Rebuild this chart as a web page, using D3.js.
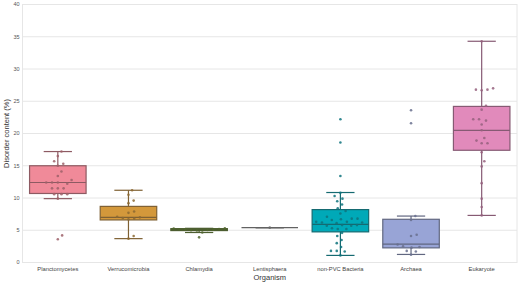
<!DOCTYPE html>
<html>
<head>
<meta charset="utf-8">
<script src="https://cdn.jsdelivr.net/npm/d3@7"></script>
<style>
  body { margin: 0; background: #fff; }
  svg { display: block; font-family: "Liberation Sans", Arial, sans-serif; }
</style>
</head>
<body>
<div id="chart"></div>
<script>
// categories and colours
const categories = ["Planctomycetes", "Verrucomicrobia", "Chlamydia", "Lentisphaera", "non-PVC Bacteria", "Archaea", "Eukaryote"];
const colors = ["#f08a99", "#d3983b", "#6f9236", "#9a9a9a", "#00a9b8", "#98a4d6", "#e18abb"];

// box statistics
const whiskerLo = [9.9, 3.7, 4.65, 5.4, 1.1, 1.25, 7.3];
const q1 = [10.7, 6.6, 4.95, 5.4, 4.75, 2.27, 17.4];
const median = [12.4, 7.0, 5.1, 5.4, 5.9, 2.85, 20.5];
const q3 = [15.0, 8.7, 5.25, 5.4, 8.2, 6.7, 24.2];
const whiskerHi = [17.2, 11.2, 5.3, 5.4, 10.85, 7.2, 34.3];

// individual points (swarm)
const planctomycetes = [17.2, 16.5, 15.7, 15.3, 15.0, 14.1, 13.4, 12.8, 12.4, 12.4, 12.4, 12.2, 11.5, 11.5, 11.5, 10.6, 10.6, 10.6, 9.9, 4.2, 3.6];
const verrucomicrobia = [11.2, 10.5, 9.6, 9.2, 7.9, 7.7, 7.1, 7.0, 6.9, 6.8, 6.7, 4.1, 3.7];
const chlamydia = [5.3, 5.25, 5.2, 5.15, 5.1, 5.1, 5.05, 5.0, 4.95, 4.65, 3.9];
const lentisphaera = [5.4];
const nonPVC = [22.2, 18.6, 13.4, 10.8, 10.3, 9.9, 9.5, 9.0, 8.4, 8.0, 7.6, 7.1, 6.8, 6.8, 6.7, 6.6, 6.3, 6.3, 6.2, 6.2, 6.1, 5.8, 5.8, 5.7, 5.7, 5.3, 5.2, 5.2, 4.6, 4.1, 3.5, 3.0, 2.4, 1.8, 1.8, 1.7, 1.1];
const archaea = [23.6, 21.6, 7.2, 6.6, 4.3, 4.1, 2.8, 2.5, 2.4, 2.3, 1.8, 1.7, 1.2];
const eukaryote = [34.3, 27.0, 26.8, 26.7, 26.8, 24.3, 23.7, 22.2, 22.2, 22.0, 21.4, 20.5, 19.3, 18.9, 18.5, 18.5, 17.1, 15.7, 14.9, 12.3, 9.9, 8.6, 7.3];
const points = [planctomycetes, verrucomicrobia, chlamydia, lentisphaera, nonPVC, archaea, eukaryote];

const yTicks = [0, 5, 10, 15, 20, 25, 30, 35, 40];

const width = 520, height = 283;
const margin = { top: 4.5, right: 3, bottom: 20.5, left: 22.5 };

const svg = d3.select("#chart").append("svg")
  .attr("width", width)
  .attr("height", height);

const x = d3.scaleBand()
  .domain(categories)
  .range([margin.left, width - margin.right])
  .paddingInner(0.2)
  .paddingOuter(0.1);

const y = d3.scaleLinear()
  .domain([0, 40])
  .range([height - margin.bottom, margin.top]);

// grid
svg.append("g")
  .selectAll("line")
  .data(yTicks)
  .join("line")
  .attr("x1", margin.left)
  .attr("x2", width - margin.right)
  .attr("y1", d => y(d))
  .attr("y2", d => y(d))
  .attr("stroke", "#e6e6e6")
  .attr("stroke-width", 1);

// frame
svg.append("rect")
  .attr("x", margin.left)
  .attr("y", y(40))
  .attr("width", width - margin.right - margin.left)
  .attr("height", y(0) - y(40))
  .attr("fill", "none")
  .attr("stroke", "#e6e6e6")
  .attr("stroke-width", 1);

// y tick labels
svg.append("g")
  .selectAll("text")
  .data(yTicks)
  .join("text")
  .attr("x", margin.left - 3)
  .attr("y", d => y(d))
  .attr("dy", "0.35em")
  .attr("text-anchor", "end")
  .attr("font-size", 5.5)
  .attr("fill", "#555")
  .text(d => d);

// x tick labels
svg.append("g")
  .selectAll("text")
  .data(categories)
  .join("text")
  .attr("x", d => x(d) + x.bandwidth() / 2)
  .attr("y", y(0) + 8)
  .attr("text-anchor", "middle")
  .attr("font-size", 5.8)
  .attr("fill", "#444")
  .text(d => d);

// axis titles
svg.append("text")
  .attr("x", (margin.left + width - margin.right) / 2)
  .attr("y", 280)
  .attr("text-anchor", "middle")
  .attr("font-size", 7.5)
  .attr("fill", "#333")
  .text("Organism");

svg.append("text")
  .attr("transform", `translate(8.5, ${(y(0) + y(40)) / 2}) rotate(-90)`)
  .attr("text-anchor", "middle")
  .attr("font-size", 7.5)
  .attr("fill", "#333")
  .text("Disorder content (%)");

const edgeColor = c => d3.interpolateRgb(c, "#2a2a2a")(0.5);

// boxes
const boxes = svg.append("g")
  .selectAll("g")
  .data(categories)
  .join("g");

boxes.each(function (cat, i) {
  const g = d3.select(this);
  const cx = x(cat) + x.bandwidth() / 2;
  const bw = x.bandwidth();
  const edge = edgeColor(colors[i]);

  // whiskers
  g.append("line")
    .attr("x1", cx).attr("x2", cx)
    .attr("y1", y(q3[i])).attr("y2", y(whiskerHi[i]))
    .attr("stroke", edge).attr("stroke-width", 1.2);
  g.append("line")
    .attr("x1", cx).attr("x2", cx)
    .attr("y1", y(q1[i])).attr("y2", y(whiskerLo[i]))
    .attr("stroke", edge).attr("stroke-width", 1.2);
  [whiskerLo[i], whiskerHi[i]].forEach(v => {
    g.append("line")
      .attr("x1", cx - bw / 4).attr("x2", cx + bw / 4)
      .attr("y1", y(v)).attr("y2", y(v))
      .attr("stroke", edge).attr("stroke-width", 1.2);
  });

  if (q3[i] > q1[i]) {
    g.append("rect")
      .attr("x", x(cat))
      .attr("y", y(q3[i]))
      .attr("width", bw)
      .attr("height", y(q1[i]) - y(q3[i]))
      .attr("fill", colors[i])
      .attr("stroke", edge)
      .attr("stroke-width", 1.2);
  }
  g.append("line")
    .attr("x1", x(cat)).attr("x2", x(cat) + bw)
    .attr("y1", y(median[i])).attr("y2", y(median[i]))
    .attr("stroke", edge).attr("stroke-width", 1.2);
});

// swarm layout
function swarm(vals, d) {
  const placed = [];
  vals.map(v => y(v)).sort((a, b) => b - a).forEach(py => {
    const cands = [0];
    placed.forEach(p => {
      const dy = Math.abs(p.y - py);
      if (dy < d) {
        const dx = Math.sqrt(d * d - dy * dy);
        cands.push(p.x + dx, p.x - dx);
      }
    });
    cands.sort((a, b) => Math.abs(a) - Math.abs(b));
    const ok = cands.find(c => placed.every(p => Math.hypot(p.x - c, p.y - py) >= d - 1e-6));
    placed.push({ x: ok, y: py });
  });
  return placed;
}

points.forEach((vals, i) => {
  const cx = x(categories[i]) + x.bandwidth() / 2;
  const fill = d3.interpolateRgb(colors[i], "#222")(0.4);
  svg.append("g")
    .selectAll("circle")
    .data(swarm(vals, 5.8))
    .join("circle")
    .attr("cx", d => cx + d.x)
    .attr("cy", d => d.y)
    .attr("r", 1.3)
    .attr("fill", fill)
    .attr("opacity", 0.85);
});
</script>
</body>
</html>
